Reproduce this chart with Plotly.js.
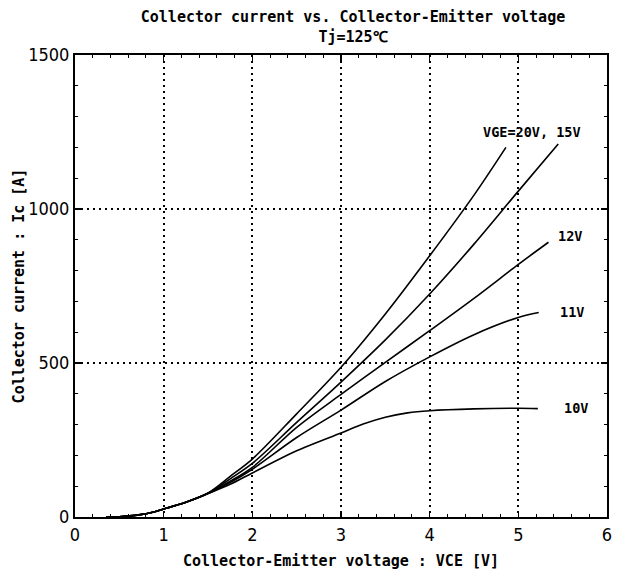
<!DOCTYPE html>
<html>
<head>
<meta charset="utf-8">
<script src="https://cdn.plot.ly/plotly-3.0.1.min.js"></script>
<style>html,body{margin:0;padding:0;background:#fff;}</style>
</head>
<body>
<div id="chart" style="width:627px;height:583px;"></div>
<script>
// Collector current Ic [A] vs collector-emitter voltage VCE [V], Tj = 125 degC
const vge20_v = [0.35, 0.5, 0.7, 0.9, 1.0, 1.25, 1.5, 1.75, 2.0, 2.5, 3.0, 3.5, 4.0, 4.5, 4.86];
const vge20_i = [0, 1, 6, 17, 26, 48, 78, 132, 188, 335, 486, 659, 848, 1045, 1200];

const vge15_v = [0.35, 0.5, 0.7, 0.9, 1.0, 1.25, 1.5, 1.75, 2.0, 2.5, 3.0, 3.5, 4.0, 4.5, 5.0, 5.45];
const vge15_i = [0, 1, 6, 17, 26, 48, 77, 124, 174, 307, 438, 575, 724, 886, 1058, 1211];

const vge12_v = [0.35, 0.5, 0.7, 0.9, 1.0, 1.25, 1.5, 1.75, 2.0, 2.5, 3.0, 3.5, 4.0, 4.5, 5.0, 5.34];
const vge12_i = [0, 1, 6, 17, 26, 48, 76, 116, 161, 291, 398, 502, 605, 710, 820, 892];

const vge11_v = [0.35, 0.5, 0.7, 0.9, 1.0, 1.25, 1.5, 1.75, 2.0, 2.5, 3.0, 3.5, 4.0, 4.5, 5.0, 5.23];
const vge11_i = [0, 1, 6, 17, 26, 48, 76, 112, 155, 258, 347, 440, 520, 592, 648, 664];

const vge10_v = [0.35, 0.5, 0.7, 0.9, 1.0, 1.25, 1.5, 1.75, 2.0, 2.5, 3.0, 3.25, 3.5, 3.75, 4.0, 4.5, 5.0, 5.22];
const vge10_i = [0, 1, 6, 17, 26, 48, 76, 106, 143, 215, 273, 302, 324, 338, 345, 351, 353, 352];

const curveLabels = ["VGE=20V, 15V", "12V", "11V", "10V"];
const labelV = [5.15, 5.58, 5.6, 5.65];
const labelI = [1251, 913, 666, 354];

const seriesV = [vge20_v, vge15_v, vge12_v, vge11_v, vge10_v];
const seriesI = [vge20_i, vge15_i, vge12_i, vge11_i, vge10_i];
const seriesNames = ["VGE=20V", "VGE=15V", "VGE=12V", "VGE=11V", "VGE=10V"];

const monoFont = {family: "DejaVu Sans Mono, monospace", size: 15, color: "#000", weight: "bold"};
const tickFont = {family: "Liberation Sans Narrow, DejaVu Sans Condensed, sans-serif", size: 18, color: "#000"};

const traces = seriesV.map((v, k) => ({
  x: v, y: seriesI[k], name: seriesNames[k],
  type: "scatter", mode: "lines",
  line: {color: "#000", width: 1.6, shape: "spline", smoothing: 0.9},
  hoverinfo: "skip", showlegend: false
}));

const annotations = curveLabels.map((t, k) => ({
  x: labelV[k], y: labelI[k], xref: "x", yref: "y",
  text: t, showarrow: false, xanchor: "center", yanchor: "middle",
  font: {family: "DejaVu Sans Mono, monospace", size: 13.5, color: "#000", weight: "bold"}
}));

const axisCommon = {
  showline: true, linecolor: "#000", linewidth: 2, mirror: "ticks",
  ticks: "inside", ticklen: 6, tickwidth: 1.5, tickcolor: "#000",
  showgrid: true, gridcolor: "#000", gridwidth: 2, griddash: "2px,4px",
  zeroline: false, tickfont: tickFont, fixedrange: true
};

const layout = {
  width: 627, height: 583,
  margin: {l: 75, r: 20, t: 55, b: 66},
  paper_bgcolor: "#fff", plot_bgcolor: "#fff",
  title: {
    text: "Collector current vs. Collector-Emitter voltage<br>Tj=125℃",
    font: monoFont, x: 0.563, xanchor: "center", y: 0.962, yanchor: "middle"
  },
  xaxis: Object.assign({}, axisCommon, {
    range: [0, 6], dtick: 1, tick0: 0,
    minor: {dtick: 0.2, ticks: "inside", ticklen: 3, tickwidth: 1, tickcolor: "#000", showgrid: false},
    title: {text: "Collector-Emitter voltage : VCE [V]", font: monoFont, standoff: 12}
  }),
  yaxis: Object.assign({}, axisCommon, {
    range: [0, 1500], dtick: 500, tick0: 0,
    minor: {dtick: 100, ticks: "inside", ticklen: 3, tickwidth: 1, tickcolor: "#000", showgrid: false},
    title: {text: "Collector current : Ic [A]", font: monoFont, standoff: 0}
  }),
  annotations: annotations,
  showlegend: false
};

Plotly.newPlot("chart", traces, layout, {displayModeBar: false, staticPlot: true});
</script>
</body>
</html>
